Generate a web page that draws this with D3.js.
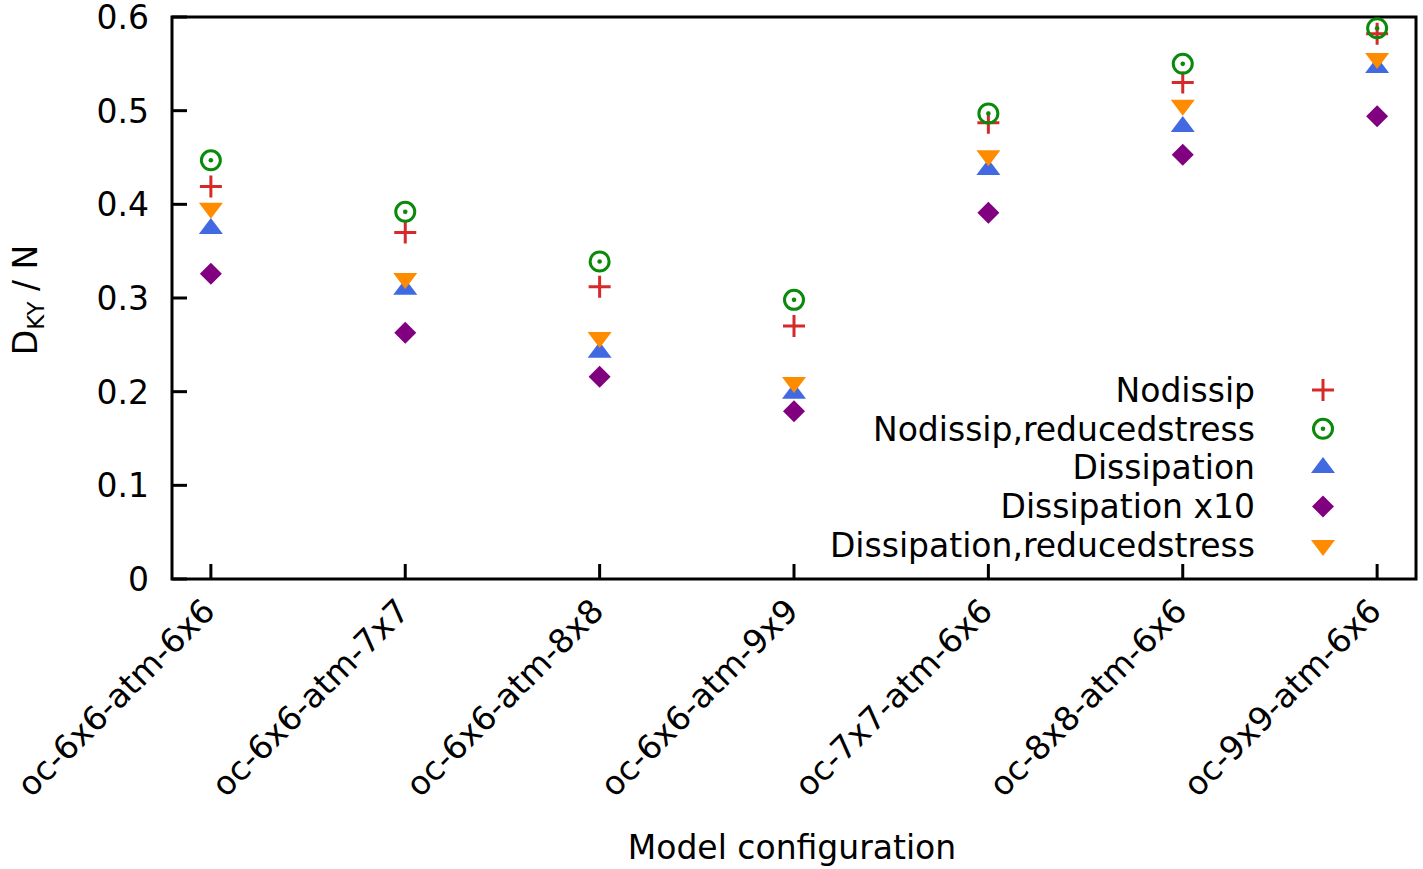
<!DOCTYPE html>
<html>
<head>
<meta charset="utf-8">
<script src="https://cdn.jsdelivr.net/npm/d3@7"></script>
<style>
  body { margin: 0; background: #fff; }
  text { font-family: "DejaVu Sans", sans-serif; fill: #000; }
</style>
</head>
<body>
<svg id="chart" width="1423" height="869"></svg>
<script>
// values
const configs = ["oc-6x6-atm-6x6", "oc-6x6-atm-7x7", "oc-6x6-atm-8x8", "oc-6x6-atm-9x9",
                 "oc-7x7-atm-6x6", "oc-8x8-atm-6x6", "oc-9x9-atm-6x6"]
const nodissip        = [0.419, 0.370, 0.312, 0.270, 0.487, 0.530, 0.582]
const nodissipReduced = [0.447, 0.392, 0.339, 0.298, 0.497, 0.550, 0.588]
const dissipation     = [0.374, 0.309, 0.242, 0.198, 0.437, 0.483, 0.546]
const dissipationX10  = [0.326, 0.263, 0.216, 0.179, 0.391, 0.453, 0.494]
const dissipReduced   = [0.396, 0.321, 0.258, 0.210, 0.452, 0.506, 0.556]
const yTicks = [0, 0.1, 0.2, 0.3, 0.4, 0.5, 0.6]

const series = [
  {name: "Nodissip", values: nodissip, shape: "plus", color: "#d62a2a"},
  {name: "Nodissip,reducedstress", values: nodissipReduced, shape: "dotcircle", color: "#0a8a0a"},
  {name: "Dissipation", values: dissipation, shape: "up", color: "#4169e1"},
  {name: "Dissipation x10", values: dissipationX10, shape: "diamond", color: "#800080"},
  {name: "Dissipation,reducedstress", values: dissipReduced, shape: "down", color: "#ff8c00"}
]

const svg = d3.select("#chart")
const plotL = 172, plotR = 1416, plotT = 17, plotB = 579
const fontSize = 33

let x = d3.scaleLinear().domain([-0.2, configs.length - 0.8]).range([plotL, plotR])
let y = d3.scaleLinear().domain([0, 0.6]).range([plotB, plotT])

// frame
svg.append("rect")
  .attr("x", plotL).attr("y", plotT)
  .attr("width", plotR - plotL).attr("height", plotB - plotT)
  .attr("fill", "none").attr("stroke", "#000").attr("stroke-width", 3)

// y axis ticks (inward) + labels
let yAxis = svg.append("g")
yAxis.selectAll("line").data(yTicks).enter().append("line")
  .attr("x1", plotL).attr("x2", plotL + 15)
  .attr("y1", d => y(d)).attr("y2", d => y(d))
  .attr("stroke", "#000").attr("stroke-width", 3)
yAxis.selectAll("text").data(yTicks).enter().append("text")
  .attr("x", plotL - 23).attr("y", d => y(d))
  .attr("dy", "0.36em")
  .attr("text-anchor", "end")
  .style("font-size", fontSize + "px")
  .text(d => d === 0 ? "0" : d3.format(".1f")(d))

// x axis ticks + rotated labels
let xAxis = svg.append("g")
xAxis.selectAll("line").data(configs).enter().append("line")
  .attr("x1", (d, i) => x(i)).attr("x2", (d, i) => x(i))
  .attr("y1", plotB).attr("y2", plotB - 15)
  .attr("stroke", "#000").attr("stroke-width", 3)
xAxis.selectAll("text").data(configs).enter().append("text")
  .attr("transform", (d, i) => "translate(" + (x(i) + 6) + "," + (plotB + 34) + ") rotate(-45)")
  .attr("text-anchor", "end")
  .style("font-size", fontSize + "px")
  .text(d => d)

// axis titles
svg.append("text")
  .attr("x", (plotL + plotR) / 2 - 2).attr("y", 859)
  .attr("text-anchor", "middle")
  .style("font-size", fontSize + "px")
  .text("Model configuration")

let ylab = svg.append("text")
  .attr("transform", "translate(37," + ((plotT + plotB) / 2 + 2) + ") rotate(-90)")
  .attr("text-anchor", "middle")
  .style("font-size", fontSize + "px")
ylab.append("tspan").text("D")
ylab.append("tspan").attr("dy", 7).style("font-size", "23px").text("KY")
ylab.append("tspan").attr("dy", -7).text(" / N")

// marker drawing
let drawMarker = (g, shape, color) => {
  if (shape === "plus") {
    g.append("path").attr("d", "M-11,0H11M0,-11V11")
      .attr("stroke", color).attr("stroke-width", 3).attr("fill", "none")
  } else if (shape === "dotcircle") {
    g.append("circle").attr("r", 9.5)
      .attr("stroke", color).attr("stroke-width", 3).attr("fill", "none")
    g.append("circle").attr("r", 2.3).attr("fill", color)
  } else if (shape === "up") {
    g.append("path").attr("d", "M0,-10.7L12,5.3L-12,5.3Z").attr("fill", color)
  } else if (shape === "down") {
    g.append("path").attr("d", "M0,10.7L12,-5.3L-12,-5.3Z").attr("fill", color)
  } else if (shape === "diamond") {
    g.append("path").attr("d", "M0,-11L11,0L0,11L-11,0Z").attr("fill", color)
  }
}

// points (triangles first, as they overlap in the reference)
const drawOrder = [2, 3, 4, 0, 1]
drawOrder.forEach(si => {
  let s = series[si]
  svg.append("g").selectAll("g")
    .data(s.values).enter().append("g")
    .attr("transform", (d, i) => "translate(" + x(i) + "," + y(d) + ")")
    .each(function () { drawMarker(d3.select(this), s.shape, s.color) })
})

// legend
let legend = svg.append("g")
series.forEach((s, i) => {
  let ly = 390 + i * 38.8
  legend.append("text")
    .attr("x", 1255).attr("y", ly).attr("dy", "0.36em")
    .attr("text-anchor", "end")
    .style("font-size", fontSize + "px")
    .text(s.name)
  let g = legend.append("g").attr("transform", "translate(1323," + ly + ")")
  drawMarker(g, s.shape, s.color)
})
</script>
</body>
</html>
